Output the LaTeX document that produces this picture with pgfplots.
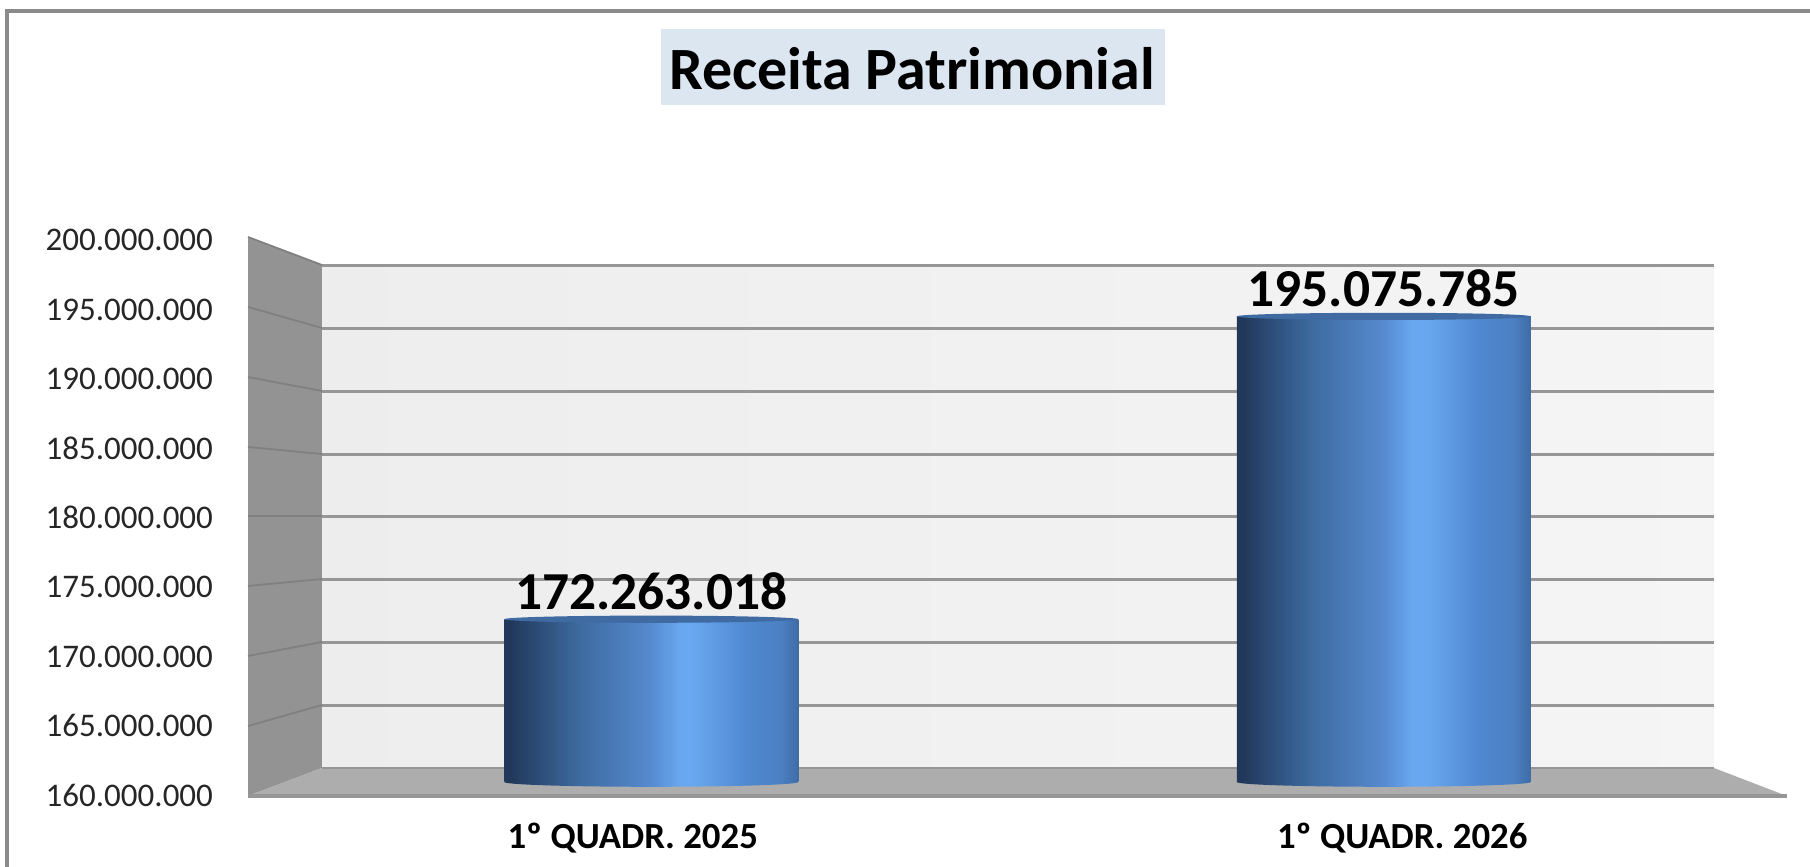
\documentclass[border=0pt]{standalone}
\usepackage{pgfplots}
\pgfplotsset{compat=1.18}
\usepackage{fontspec}
\setmainfont{Carlito}
\definecolor{cA}{HTML}{21385B}
\definecolor{cB}{HTML}{3D6A9F}
\definecolor{cC}{HTML}{568BD0}
\definecolor{cD}{HTML}{69A8F0}
\definecolor{cE}{HTML}{5089D0}
\definecolor{cF}{HTML}{3F6CA5}
\definecolor{capc}{HTML}{3F6AA2}
\definecolor{gridc}{HTML}{969696}
\definecolor{wallc}{HTML}{939393}
\definecolor{floorc}{HTML}{ADADAD}
\definecolor{titlebg}{HTML}{DCE6F1}
\definecolor{framec}{HTML}{8A8A8A}
\definecolor{lblc}{HTML}{262626}
\pgfdeclarehorizontalshading{cyl}{100bp}{
  color(0bp)=(cA); color(25bp)=(cA); color(26bp)=(cA); color(37.5bp)=(cB); color(50bp)=(cC);
  color(55bp)=(cD); color(57bp)=(cD); color(66bp)=(cE); color(72bp)=(cE!70!cF); color(75bp)=(cF); color(100bp)=(cF)}
\pgfdeclareplotmark{cylcap}{%
  \pgfpathellipse{\pgfpointorigin}{\pgfqpoint{73.5pt}{0pt}}{\pgfqpoint{0pt}{1.8pt}}%
  \pgfusepathqfill}
\pgfdeclareplotmark{cylbase}{%
  \pgfpathellipse{\pgfpointorigin}{\pgfqpoint{73.5pt}{0pt}}{\pgfqpoint{0pt}{2.4pt}}%
  \pgfshadepath{cyl}{0}\pgfusepath{discard}}
\begin{document}
\begin{tikzpicture}
% backdrop, in the pixel coordinates of the picture
\begin{axis}[at={(0pt,0pt)},anchor=south west,scale only axis,width=905pt,height=433.5pt,
  xmin=0,xmax=1810,ymin=0,ymax=867,y dir=reverse,hide axis]
\addplot[draw=none,forget plot] coordinates {(0,0)(1810,867)};
\addplot[draw=none,fill=wallc] coordinates {(248,237)(322,265)(322,768)(248,796)} -- cycle;
\addplot[draw=none,fill=floorc] coordinates {(248,796)(322,768)(1714,768)(1787,796)} -- cycle;
\addplot[draw=none,left color=black!7,right color=black!4] coordinates {(322,265)(1714,265)(1714,768)(322,768)} -- cycle;
\foreach \yb/\yf in {265/237,328/307,391/377,454/447,516/516,579/586,642/656,705/726}{
  \edef\tmp{\noexpand\addplot[gridc,line width=1.5pt,forget plot] coordinates {(322,\yb)(1714,\yb)};
  \noexpand\addplot[black!50,line width=.9pt,forget plot] coordinates {(248,\yf)(322,\yb)};}
  \tmp
}
\addplot[gridc,line width=1.1pt] coordinates {(322,768)(1714,768)};
\addplot[gridc,line width=1.6pt] coordinates {(248,796)(1787,796)};
\addplot[framec,line width=1.7pt] coordinates {(7,867)(7,11)(1810,11)};
\addplot[draw=none,fill=titlebg] coordinates {(661,29)(1165,29)(1165,105)(661,105)} -- cycle;
\node[font=\fontsize{30}{33}\selectfont\bfseries,text=black,anchor=center] at (axis cs:912,69) {Receita Patrimonial};
\end{axis}
% front plane: tick labels
\begin{axis}[at={(124pt,36.5pt)},anchor=south west,scale only axis,width=769.5pt,height=277.5pt,
  xmin=0,xmax=2,ymin=160000000,ymax=200000000,scaled ticks=false,
  axis line style={draw=none},tick style={draw=none},major tick length=0pt,
  ytick={160000000,165000000,170000000,175000000,180000000,185000000,190000000,195000000,200000000},
  yticklabels={160.000.000,165.000.000,170.000.000,175.000.000,180.000.000,185.000.000,190.000.000,195.000.000,200.000.000},
  xtick={0.5,1.5},xticklabels={1º QUADR. 2025,1º QUADR. 2026},
  yticklabel style={font=\fontsize{16.5}{18}\selectfont,text=lblc,anchor=east,xshift=-14pt,yshift=-0.6pt},
  xticklabel style={font=\fontsize{18.4}{20}\selectfont\bfseries,text=black,anchor=base,yshift=-27.1pt},
  clip=false]
\end{axis}
% middle plane: the bars
\begin{axis}[at={(142.5pt,42.5pt)},anchor=south west,scale only axis,width=732.5pt,height=265.5pt,
  xmin=0,xmax=2,ymin=160000000,ymax=200000000,hide axis,clip=false]
\addplot[only marks,mark=cylbase,forget plot] coordinates {(0.5,160000000)(1.5,160000000)};
\addplot[ybar,bar width=147pt,bar shift=0pt,draw=none,shading=cyl,forget plot] coordinates {(0.5,172263018)};
\addplot[ybar,bar width=147pt,bar shift=0pt,draw=none,shading=cyl,forget plot] coordinates {(1.5,195075785)};
\addplot[only marks,mark=cylcap,color=capc,
  point meta=explicit symbolic,
  nodes near coords,
  every node near coord/.append style={font=\fontsize{26.7}{28}\selectfont\bfseries,text=black,anchor=base,yshift=5pt}]
  coordinates {(0.5,172263018)[172.263.018] (1.5,195075785)[195.075.785]};
\end{axis}
\end{tikzpicture}
\end{document}
